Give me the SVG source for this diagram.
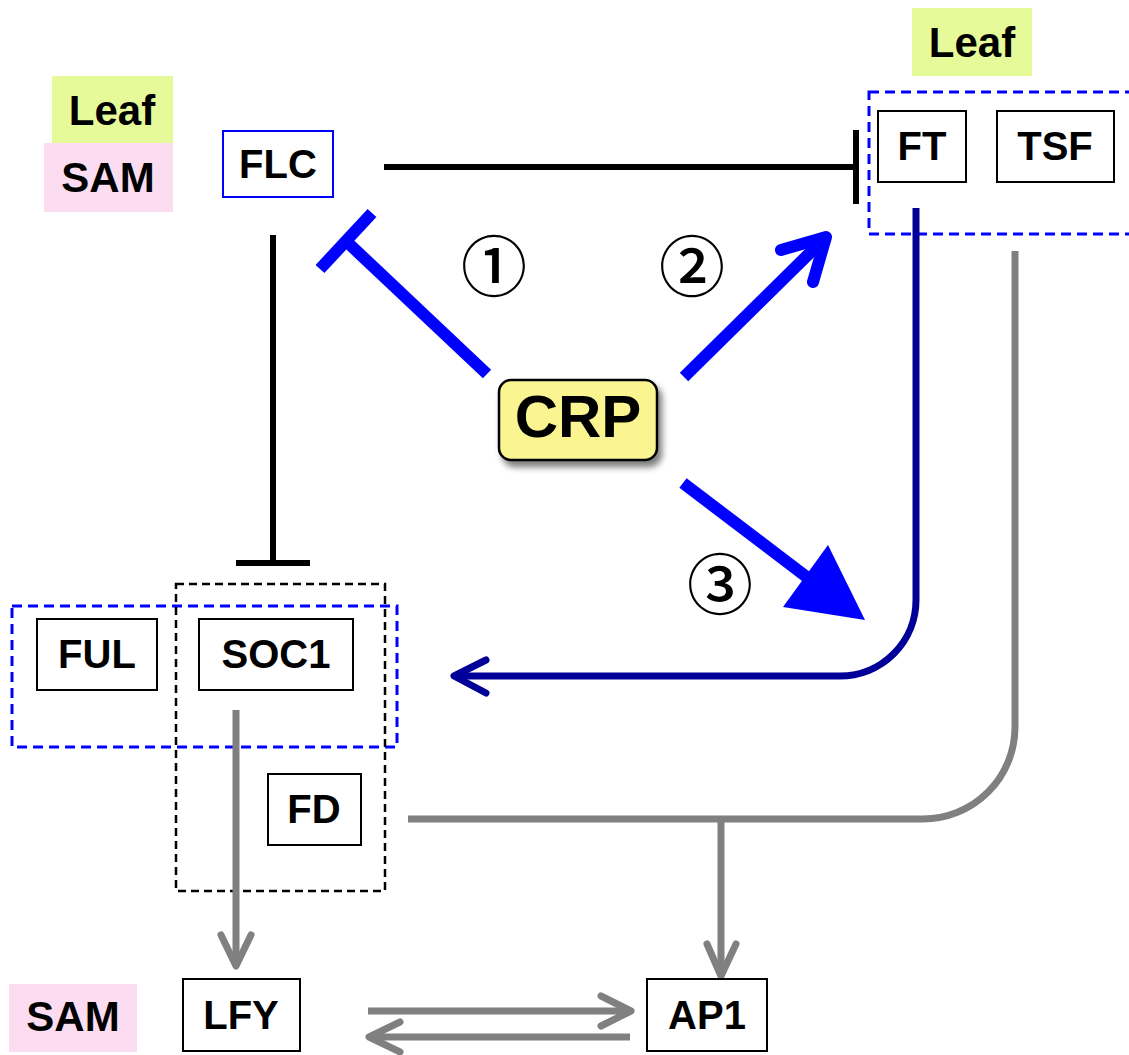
<svg xmlns="http://www.w3.org/2000/svg" width="1129" height="1055" viewBox="0 0 1129 1055">
<defs>
<style>
text{font-family:"Liberation Sans",Arial,sans-serif;font-weight:bold;text-anchor:middle;fill:#000}
.lbl{font-size:42px}
.nd{font-size:40px}
.box{fill:#fff;stroke:#000;stroke-width:2}
.num{font-family:"Noto Sans CJK JP","DejaVu Sans",sans-serif;font-weight:500;font-size:66px}
.blue{stroke:#0000ff;stroke-width:12;fill:none}
.gray{stroke:#808080;stroke-width:7;fill:none}
.navy{stroke:#000099;stroke-width:7;fill:none}
.blk{stroke:#000;stroke-width:6;fill:none}
.rd{stroke-linecap:round;stroke-linejoin:round}
.dashb{fill:none;stroke:#0000ff;stroke-width:3;stroke-dasharray:10 6}
.dashk{fill:none;stroke:#000;stroke-width:2.5;stroke-dasharray:8 5}
</style>
<filter id="sh" x="-20%" y="-20%" width="150%" height="150%">
<feDropShadow dx="4" dy="6" stdDeviation="3" flood-color="#000" flood-opacity="0.5"/>
</filter>
</defs>

<g id="tissue-labels">
<rect x="52" y="76" width="121" height="67" fill="#e6fa9a"/>
<text class="lbl" x="112" y="125">Leaf</text>
<rect x="44" y="143" width="129" height="69" fill="#fcdcf1"/>
<text class="lbl" x="108" y="192">SAM</text>
<rect x="912" y="8" width="120" height="68" fill="#e6fa9a"/>
<text class="lbl" x="972" y="57">Leaf</text>
<rect x="9" y="984" width="128" height="68" fill="#fcdcf1"/>
<text class="lbl" x="73" y="1031">SAM</text>
</g>

<g id="groups">
<rect id="grp-ft-tsf" x="869" y="92" width="270" height="142" class="dashb"/>
<rect id="grp-ful-soc1" x="12" y="606" width="385" height="141" class="dashb"/>
<rect id="grp-soc1-fd" x="176" y="584" width="209" height="307" class="dashk"/>
</g>

<g id="connectors">
<line class="blk" x1="384" y1="167" x2="856" y2="167"/>
<line class="blk" x1="856" y1="130" x2="856" y2="204"/>
<line class="blk" x1="273" y1="235" x2="273" y2="563"/>
<line class="blk" x1="236" y1="563" x2="310" y2="563"/>
<line class="blue" x1="487" y1="374" x2="346" y2="241"/>
<line class="blue" x1="320" y1="269" x2="372" y2="213"/>
<line class="blue" x1="684" y1="377" x2="824" y2="239"/>
<polyline class="blue rd" points="781,250 826,237 813,282"/>
<line class="blue" x1="683" y1="483" x2="808" y2="578"/>
<polygon points="865,620 783,607 828,545" fill="#0000ff"/>
<path class="navy" d="M916,208 V600 A76,76 0 0 1 840,676 H456"/>
<polyline class="navy rd" points="486,660 454,676 486,693"/>
<path class="gray" d="M1015,251 V727 A92,92 0 0 1 923,819 H408"/>
<line class="gray" x1="721" y1="819" x2="721" y2="974"/>
<polyline class="gray rd" points="707,944 721,976 736,944"/>
<line class="gray" x1="236" y1="710" x2="236" y2="964"/>
<polyline class="gray rd" points="221,935 236,966 251,935"/>
<line class="gray" x1="368" y1="1011" x2="629" y2="1011"/>
<polyline class="gray rd" points="601,996 631,1011 601,1026"/>
<line class="gray" x1="630" y1="1037" x2="370" y2="1037"/>
<polyline class="gray rd" points="400,1022 369,1037 400,1052"/>
</g>

<g id="numbers">
<text class="num" x="494" y="291">①</text>
<text class="num" x="692" y="291">②</text>
<text class="num" x="720" y="609">③</text>
</g>

<g id="FLC"><rect x="223" y="131" width="110" height="66" fill="#fff" stroke="#0000ff" stroke-width="2"/><text class="nd" x="278" y="178" font-size="38">FLC</text></g>
<g id="FT"><rect class="box" x="878" y="111" width="88" height="71"/><text class="nd" x="922" y="160">FT</text></g>
<g id="TSF"><rect class="box" x="997" y="111" width="117" height="71"/><text class="nd" x="1055" y="160">TSF</text></g>
<g id="CRP"><rect x="499" y="380" width="158" height="80" rx="12" fill="#faf590" stroke="#000" stroke-width="2.5" filter="url(#sh)"/><text x="578" y="437" font-size="60">CRP</text></g>
<g id="FUL"><rect class="box" x="37" y="619" width="120" height="71"/><text class="nd" x="97" y="668" font-size="41">FUL</text></g>
<g id="SOC1"><rect class="box" x="199" y="619" width="154" height="71"/><text class="nd" x="276" y="668" font-size="41">SOC1</text></g>
<g id="FD"><rect class="box" x="268" y="774" width="93" height="71"/><text class="nd" x="314" y="823" font-size="41">FD</text></g>
<g id="LFY"><rect class="box" x="183" y="979" width="117" height="72"/><text class="nd" x="241" y="1029" font-size="41">LFY</text></g>
<g id="AP1"><rect class="box" x="647" y="979" width="120" height="72"/><text class="nd" x="707" y="1029" font-size="41">AP1</text></g>
</svg>
